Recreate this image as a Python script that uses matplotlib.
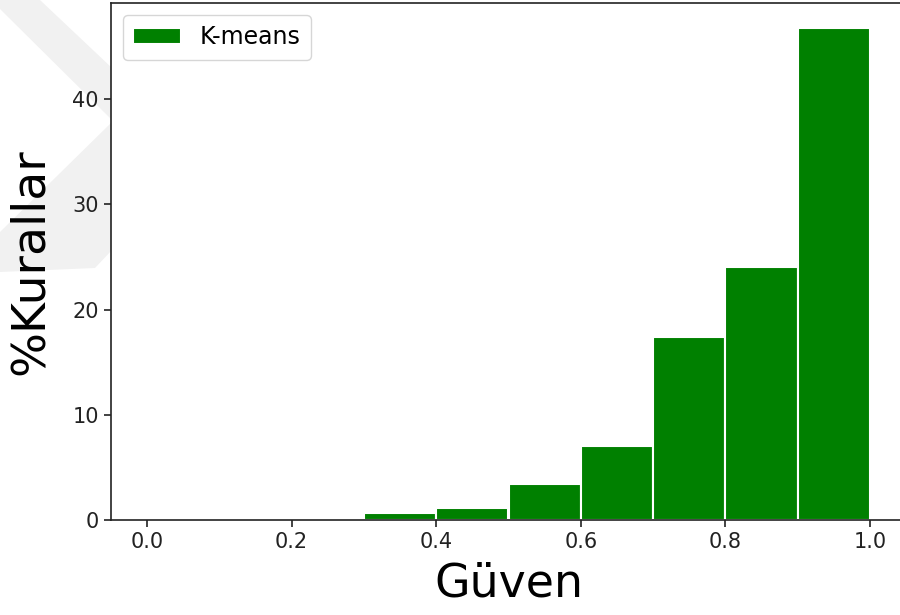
import numpy as np
import matplotlib.pyplot as plt
from matplotlib.patches import Polygon

# confidence histogram (percent of rules per bin)
bin_edges = [0.0, 0.1, 0.2, 0.3, 0.4, 0.5, 0.6, 0.7, 0.8, 0.9, 1.0]
percent_rules = [0.0, 0.0, 0.0, 0.67, 1.14, 3.43, 7.05, 17.4, 24.0, 46.8]
series_label = "K-means"

W, H = 900, 615
fig = plt.figure(figsize=(W / 100, H / 100), dpi=100)
fig.patch.set_facecolor("white")

# faint watermark behind the axes
def px(pts):
    return [(x / W, 1 - y / H) for x, y in pts]

wm = "#f1f1f1"
fig.patches.append(Polygon(px([(0, 0), (40, 0), (112, 68), (112, 120), (0, 9)]),
                           closed=True, transform=fig.transFigure,
                           facecolor=wm, edgecolor="none", zorder=-1))
fig.patches.append(Polygon(px([(112, 122), (0, 232), (0, 272), (95, 268), (112, 250)]),
                           closed=True, transform=fig.transFigure,
                           facecolor=wm, edgecolor="none", zorder=-1))

ax = fig.add_axes([111 / W, 95 / H, 795 / W, 517 / H])
ax.set_facecolor("white")

centers = [(bin_edges[i] + bin_edges[i + 1]) / 2 for i in range(len(percent_rules))]
ax.hist(centers, bins=bin_edges, weights=percent_rules, color="green",
        edgecolor="white", linewidth=1.5, label=series_label)

ax.set_xticks([0.0, 0.2, 0.4, 0.6, 0.8, 1.0])
ax.set_yticks([0, 10, 20, 30, 40])
ax.tick_params(labelsize=15, length=5.3, width=1.2, colors="#222222", labelcolor="#222222")
for s in ax.spines.values():
    s.set_linewidth(1.2)
    s.set_color("#222222")

ax.set_xlabel("Güven", fontsize=33, labelpad=7)
ax.set_ylabel("%Kurallar", fontsize=34, labelpad=14)
ax.legend(loc="upper left", fontsize=17, handlelength=2.0, borderpad=0.45)

fig.savefig("out.png", dpi=100)
